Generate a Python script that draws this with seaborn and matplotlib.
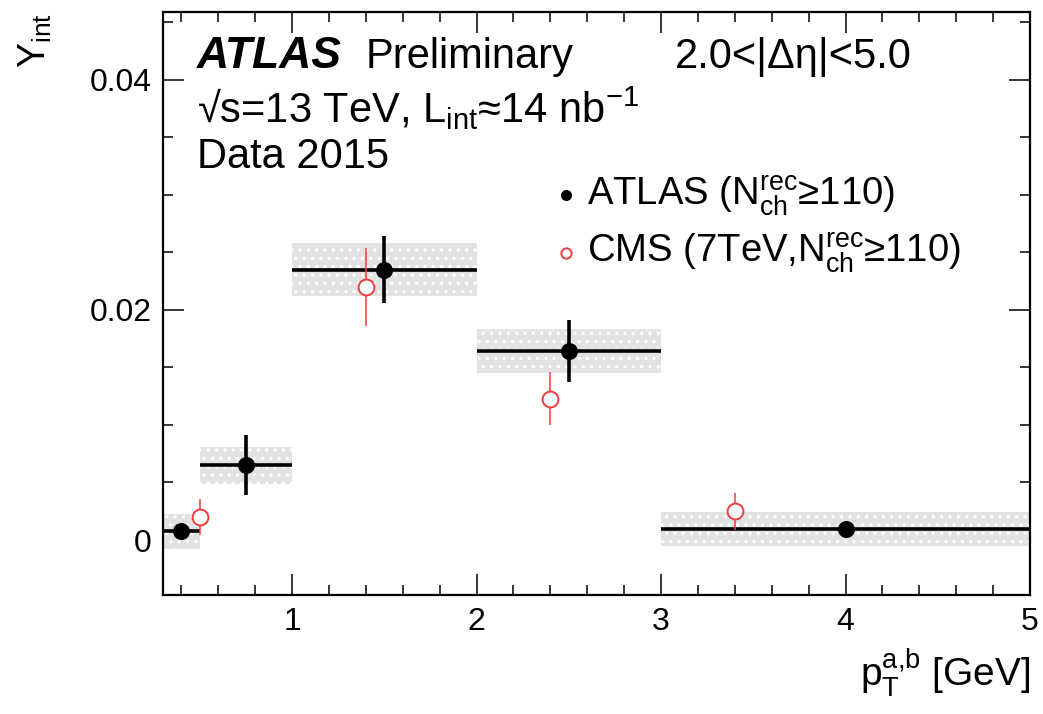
import numpy as np
import pandas as pd
import matplotlib
matplotlib.use("Agg")
import matplotlib.pyplot as plt
from matplotlib.ticker import MultipleLocator
import seaborn as sns

# ---- data ----
atlas_lo = [0.3, 0.5, 1.0, 2.0, 3.0]
atlas_hi = [0.5, 1.0, 2.0, 3.0, 5.0]
atlas_x = [0.4, 0.75, 1.5, 2.5, 4.0]
atlas_y = [0.00075, 0.0065, 0.0235, 0.0164, 0.00095]
atlas_stat = [0.0003, 0.0026, 0.0029, 0.0027, 0.0003]
atlas_syst = [0.0015, 0.0016, 0.0023, 0.0019, 0.0015]

cms_x = [0.5, 1.4, 2.4, 3.4]
cms_y = [0.0020, 0.0220, 0.0123, 0.0025]
cms_err = [0.0016, 0.0034, 0.0023, 0.0016]

xticks = [1, 2, 3, 4, 5]
yticks = [0, 0.02, 0.04]
yticklabels = ["0", "0.02", "0.04"]

sns.set_style("ticks")
plt.rcParams['font.family'] = ['Liberation Sans', 'DejaVu Sans']
plt.rcParams['mathtext.fontset'] = 'custom'
plt.rcParams['mathtext.rm'] = 'Liberation Sans'
plt.rcParams['mathtext.it'] = 'Liberation Sans:italic'
plt.rcParams['mathtext.bf'] = 'Liberation Sans:bold'
plt.rcParams['hatch.linewidth'] = 1.2
for k in ['text.color', 'axes.labelcolor', 'xtick.color', 'ytick.color', 'axes.edgecolor']:
    plt.rcParams[k] = 'black'

W, H = 1043, 714
fig = plt.figure(figsize=(W / 100, H / 100), dpi=100)
ax = fig.add_axes([163 / W, 1 - 595 / H, (1030 - 163) / W, (595 - 12) / H])

df_a = pd.DataFrame({"x": atlas_x, "y": atlas_y, "src": "ATLAS"})
df_c = pd.DataFrame({"x": cms_x, "y": cms_y, "src": "CMS"})

lo = np.array(atlas_lo); hi = np.array(atlas_hi)
ay = np.array(atlas_y); asy = np.array(atlas_syst)
ax_c = np.array(atlas_x)

# systematic boxes
ax.bar((lo + hi) / 2, 2 * asy, bottom=ay - asy, width=hi - lo,
       color='#e2e2e2', edgecolor='white', linewidth=0, hatch='..', zorder=1)

# ATLAS error bars
ax.errorbar(ax_c, ay, yerr=atlas_stat, xerr=[ax_c - lo, hi - ax_c],
            fmt='none', ecolor='black', elinewidth=2.6, capsize=0, zorder=3)
# CMS error bars
ax.errorbar(cms_x, cms_y, yerr=cms_err, fmt='none', ecolor='#f03c3c',
            elinewidth=1.1, capsize=0, zorder=3)

sns.scatterplot(data=df_a, x="x", y="y", ax=ax, marker='o', s=150,
                color='black', edgecolor='black', linewidth=0, zorder=5,
                label=r'ATLAS (N$_{\rm ch}^{\rm rec}$≥110)')
sns.scatterplot(data=df_c, x="x", y="y", ax=ax, marker='o', s=130,
                facecolor='white', edgecolor='#f03c3c', linewidth=1.4, zorder=5,
                label=r'CMS (7TeV,N$_{\rm ch}^{\rm rec}$≥110)')

ax.set_xlim(0.3, 5.0)
ax.set_ylim(-0.00478, 0.0459)
ax.set_xticks(xticks)
ax.set_xticklabels([str(t) for t in xticks])
ax.set_yticks(yticks)
ax.set_yticklabels(yticklabels)
ax.xaxis.set_minor_locator(MultipleLocator(0.2))
ax.yaxis.set_minor_locator(MultipleLocator(0.005))
ax.tick_params(which='both', direction='in', top=True, right=True,
               width=1.1, labelsize=23)
ax.tick_params(which='major', length=15)
ax.tick_params(which='minor', length=7.5)
ax.tick_params(axis='x', pad=9)
ax.tick_params(axis='y', pad=8)
for s in ax.spines.values():
    s.set_linewidth(1.6)

ax.set_xlabel(r'p$_{\rm T}^{\rm a{,}b}$ [GeV]', fontsize=28, loc='right')
ax.xaxis.set_label_coords(1.0, -0.09)
ax.set_ylabel(r'Y$_{\rm int}$', fontsize=27, loc='top')
ylab = ax.yaxis.label
ylab.set_rotation_mode('anchor')
ylab.set_horizontalalignment('right')
ylab.set_verticalalignment('center')
ax.yaxis.set_label_coords(-0.147, 0.998)

def ftxt(x, y, s, **kw):
    fig.text(x / W, 1 - y / H, s, va='baseline', **kw)

ftxt(197, 68, 'ATLAS', fontsize=32, fontweight='bold', fontstyle='italic')
ftxt(366, 68, 'Preliminary', fontsize=30)
ftxt(675, 68, '2.0<|Δη|<5.0', fontsize=30)
ftxt(197, 123, r'√s=13 TeV, L$_{\rm int}$≈14 nb$^{{-}1}$', fontsize=30)
ftxt(197, 168, 'Data 2015', fontsize=30)

leg = ax.legend(loc='upper left', bbox_to_anchor=(526 / W, 1 - 154 / H),
                bbox_transform=fig.transFigure, frameon=False, fontsize=27.5,
                handletextpad=0.0, labelspacing=0.35, markerscale=0.65,
                borderpad=0, handlelength=1.1)

fig.savefig('out.png', dpi=100)
